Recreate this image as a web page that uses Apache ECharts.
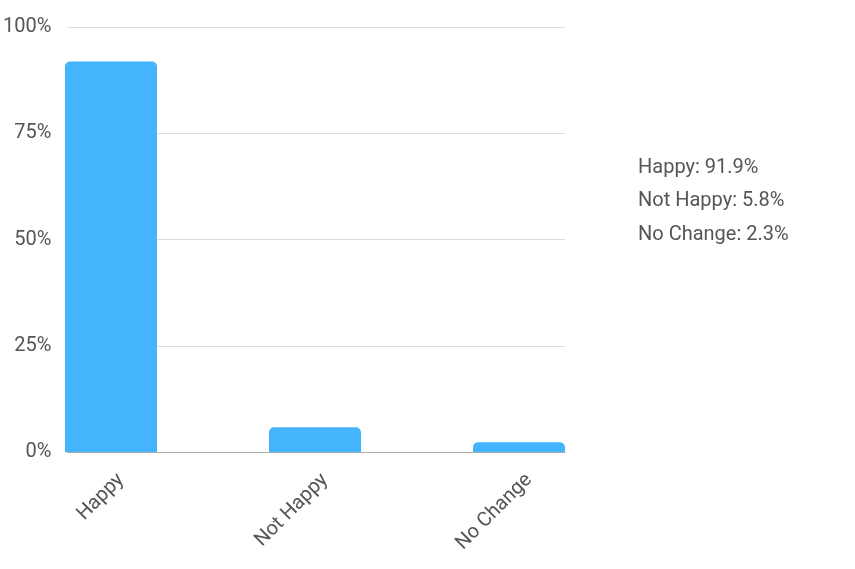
<!DOCTYPE html>
<html>
<head>
<meta charset="utf-8">
<script src="https://cdn.jsdelivr.net/npm/echarts@6/dist/echarts.min.js"></script>
<style>
  html, body { margin: 0; padding: 0; background: #fff; }
  #chart { width: 855px; height: 569px; }
</style>
</head>
<body>
<div id="chart"></div>
<script>
const categories = ['Happy', 'Not Happy', 'No Change']
const values = [91.9, 5.8, 2.3]
const yTicks = [0, 25, 50, 75, 100]

const myChart = echarts.init(document.getElementById('chart'))

const font = 'Roboto'
const textColor = '#555'

// legend-like summary on the right, built from the data
const summary = categories.map((c, i) => c + ': ' + values[i] + '%').join('\n')

const hiddenY = (idx) => ({
  gridIndex: idx,
  type: 'value',
  min: yTicks[0],
  max: yTicks[yTicks.length - 1],
  show: false
})

myChart.setOption({
  animation: false,
  textStyle: { fontFamily: font },
  title: {
    text: summary,
    left: 638,
    top: 151,
    padding: 0,
    textStyle: {
      fontFamily: font,
      fontSize: 20,
      fontWeight: 'normal',
      color: textColor,
      lineHeight: 33.5
    }
  },
  grid: [
    // outer grid: y labels, split lines, base line
    { left: 65, right: 290, top: 27, bottom: 117 },
    // inner grid: bar centres from first to last category
    { left: 111, right: 336, top: 27, bottom: 117 },
    // label grid: category labels sit a little right of the bar centres
    { left: 121, right: 326, top: 27, bottom: 117 }
  ],
  xAxis: [
    {
      gridIndex: 0,
      type: 'value',
      min: 0,
      max: 1,
      axisLine: { show: true, lineStyle: { color: '#aaa' } },
      axisTick: { show: false },
      axisLabel: { show: false },
      splitLine: { show: false }
    },
    {
      gridIndex: 1,
      type: 'category',
      boundaryGap: false,
      data: categories,
      axisLine: { show: false },
      axisTick: { show: false },
      axisLabel: { show: false }
    },
    {
      gridIndex: 2,
      type: 'category',
      boundaryGap: false,
      data: categories,
      axisLine: { show: false },
      axisTick: { show: false },
      axisLabel: {
        rotate: 45,
        margin: 25,
        fontSize: 20,
        color: textColor,
        fontFamily: font,
        interval: 0
      }
    }
  ],
  yAxis: [
    {
      gridIndex: 0,
      type: 'value',
      min: yTicks[0],
      max: yTicks[yTicks.length - 1],
      interval: yTicks[1] - yTicks[0],
      axisLine: { show: false },
      axisTick: { show: false },
      axisLabel: {
        formatter: '{value}%',
        margin: 16,
        fontSize: 20,
        color: textColor,
        fontFamily: font,
        padding: [5, 0, 0, 0]
      },
      splitLine: { lineStyle: { color: '#dddddd' } }
    },
    hiddenY(1),
    hiddenY(2)
  ],
  series: [
    {
      type: 'bar',
      xAxisIndex: 1,
      yAxisIndex: 1,
      barWidth: 92,
      data: values,
      itemStyle: {
        color: '#44b5fd',
        borderRadius: [5, 5, 0, 0]
      },
      z: 3
    }
  ]
})
</script>
</body>
</html>
